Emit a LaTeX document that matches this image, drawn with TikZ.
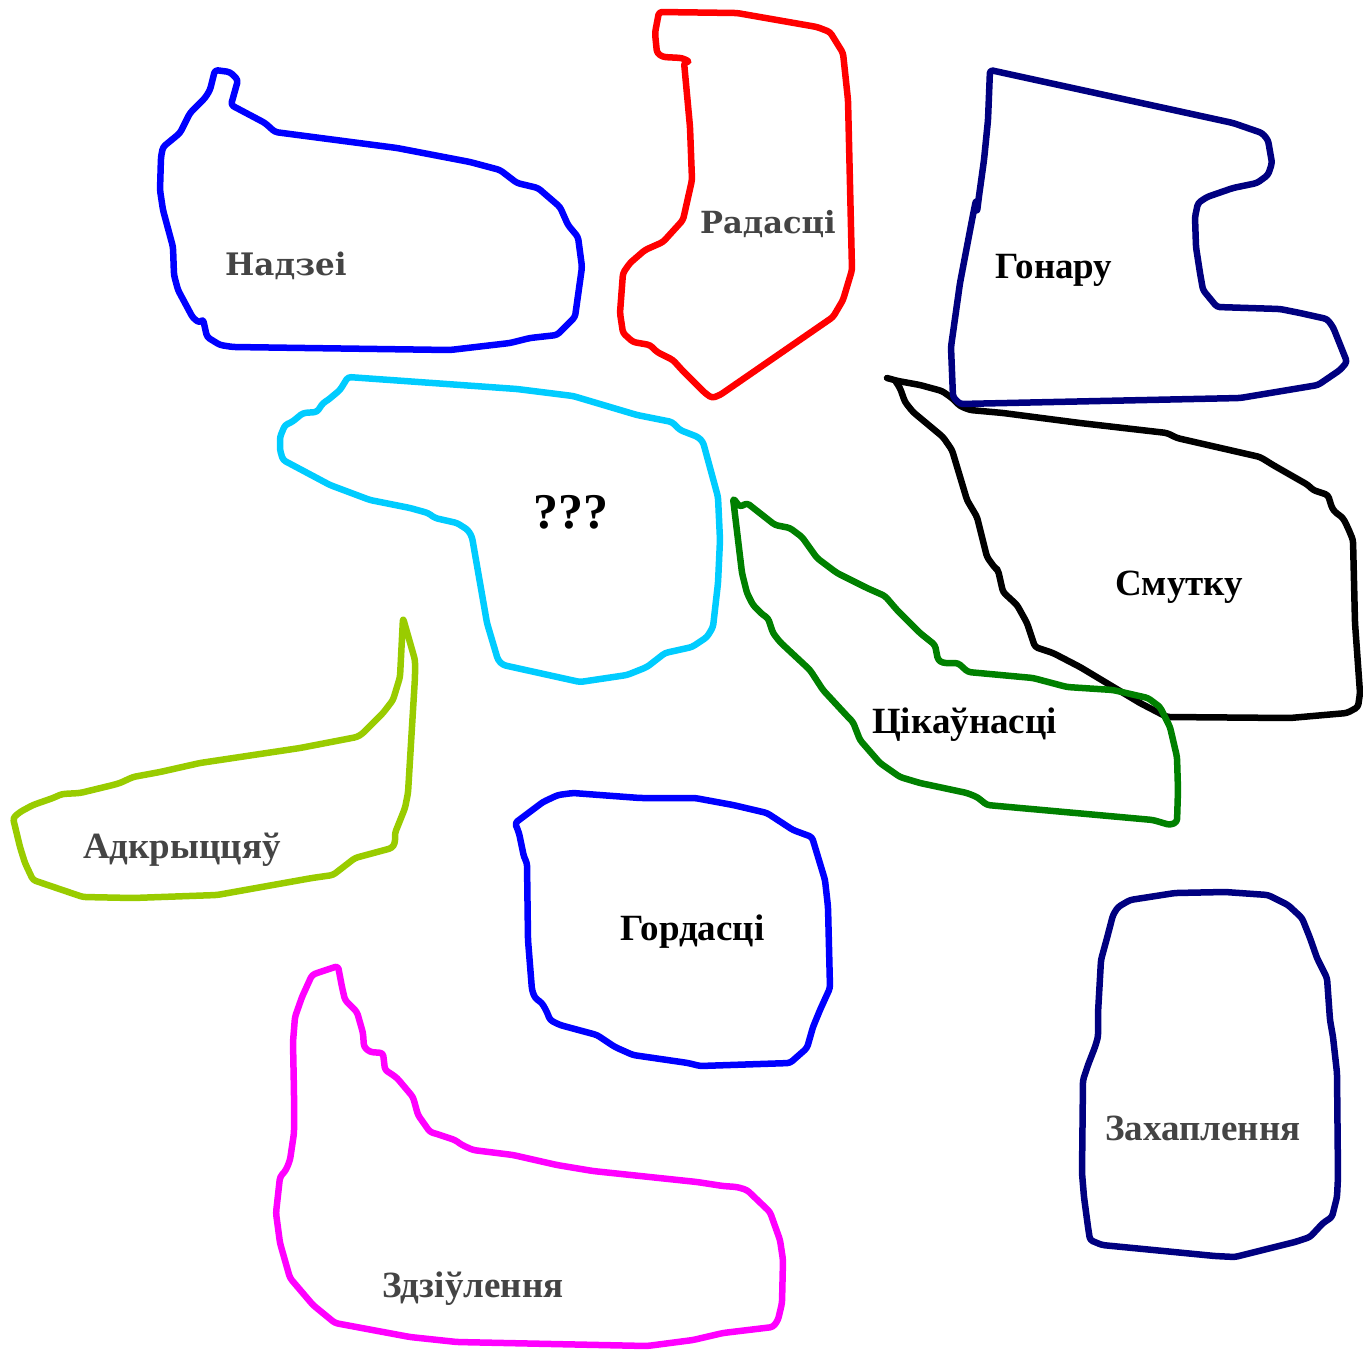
\documentclass[tikz,border=0pt]{standalone}
\usepackage{fontspec}
\setmainfont{Liberation Serif}
\newfontfamily\djserif{DejaVu Serif}
\definecolor{cblue}{HTML}{0000FF}
\definecolor{cred}{HTML}{FF0000}
\definecolor{cnavy}{HTML}{000080}
\definecolor{ccyan}{HTML}{00CCFF}
\definecolor{cyg}{HTML}{99CC00}
\definecolor{cgreen}{HTML}{008000}
\definecolor{cmag}{HTML}{FF00FF}
\definecolor{cgrey}{HTML}{444444}
\tikzset{
  region/.style={line width=6.5pt, line join=round, line cap=round, rounded corners=3pt},
  lbl/.style={anchor=base west, inner sep=0pt, font=\bfseries\fontsize{37}{40}\selectfont},
  lbld/.style={anchor=base west, inner sep=0pt, font=\djserif\bfseries\fontsize{31}{34}\selectfont, text=cgrey},
}
\begin{document}
\begin{tikzpicture}[x=1pt,y=-1pt]
\useasboundingbox (0,0) rectangle (1363,1350);
% Nadzei
\draw[region, cblue] (215,70) -- (230,72) -- (238,80) -- (231,105) -- (265,123) -- (275,132) -- (290,134) -- (397,148) -- (470,162) -- (500,170) -- (517,183) -- (538,188) -- (560,207) -- (568,225) -- (578,237) -- (582,267) -- (575,317) -- (557,335) -- (530,338) -- (510,343) -- (450,350) -- (233,347) -- (220,345) -- (207,337) -- (203,319) -- (200,323) -- (193,318) -- (178,290) -- (174,275) -- (173,247) -- (163,210) -- (160,190) -- (161,157) -- (163,147) -- (180,133) -- (190,113) -- (205,98) -- (210,90) -- cycle;
% Radasci
\draw[region, cred] (659,12) -- (737,13) -- (817,27) -- (830,32) -- (843,53) -- (848,100) -- (852,270) -- (843,300) -- (833,317) -- (720,395) -- (712,398) -- (705,393) -- (682,370) -- (673,360) -- (657,352) -- (650,345) -- (633,342) -- (623,333) -- (620,313) -- (623,273) -- (630,263) -- (645,250) -- (663,242) -- (683,220) -- (692,180) -- (690,127) -- (684,62) -- (690,62) -- (682,58) -- (663,57) -- (657,53) -- (655,33) -- cycle;
% Smutku (black, under green)
\draw[region, black] (887,378) -- (898,381) -- (920,385) -- (942,391) -- (952,398) -- (960,406) -- (970,410) -- (1003,413) -- (1080,423) -- (1167,433) -- (1177,438) -- (1260,457) -- (1265,460) -- (1273,465) -- (1308,485) -- (1313,490) -- (1328,495) -- (1332,508) -- (1335,512) -- (1343,518) -- (1348,528) -- (1353,540) -- (1355,623) -- (1360,693) -- (1358,707) -- (1347,713) -- (1290,718) -- (1167,717) -- (1140,703) -- (1110,685) -- (1080,667) -- (1053,653) -- (1035,647) -- (1027,623) -- (1017,605) -- (1003,592) -- (998,570) -- (995,568) -- (987,557) -- (977,517) -- (967,500) -- (952,450) -- (943,437) -- (913,412) -- (905,402) -- (900,388) -- (896,382);
% Honaru
\draw[region, cnavy] (990,70) -- (1233,123) -- (1262,133) -- (1268,140) -- (1272,163) -- (1268,175) -- (1257,183) -- (1233,188) -- (1207,197) -- (1198,203) -- (1195,217) -- (1196,247) -- (1200,273) -- (1203,290) -- (1217,307) -- (1280,309) -- (1300,313) -- (1327,319) -- (1333,327) -- (1347,362) -- (1340,370) -- (1318,385) -- (1240,398) -- (960,404) -- (953,397) -- (951,347) -- (960,283) -- (972,220) -- (976,200) -- (977,212) -- (979,196) -- (984,160) -- (988,120) -- cycle;
% ???
\draw[region, ccyan] (348,377) -- (517,389) -- (573,396) -- (637,415) -- (672,422) -- (680,430) -- (698,437) -- (703,442) -- (718,497) -- (720,540) -- (718,583) -- (713,627) -- (707,637) -- (692,647) -- (665,653) -- (647,667) -- (627,675) -- (580,682) -- (503,665) -- (498,660) -- (487,623) -- (472,537) -- (468,530) -- (457,523) -- (435,518) -- (428,513) -- (410,508) -- (370,500) -- (330,485) -- (283,460) -- (280,450) -- (280,437) -- (285,425) -- (292,422) -- (303,413) -- (317,412) -- (323,403) -- (328,400) -- (340,390) -- cycle;
% Cikaunasci
\draw[region, cgreen] (733,498) -- (740,507) -- (747,503) -- (775,525) -- (790,528) -- (802,537) -- (817,558) -- (837,573) -- (867,588) -- (885,596) -- (897,610) -- (920,633) -- (935,645) -- (938,660) -- (943,663) -- (958,663) -- (968,672) -- (1033,678) -- (1067,687) -- (1113,690) -- (1148,698) -- (1160,707) -- (1170,727) -- (1177,757) -- (1178,790) -- (1177,822) -- (1170,825) -- (1153,820) -- (987,805) -- (977,797) -- (967,793) -- (920,783) -- (900,777) -- (880,763) -- (860,740) -- (853,722) -- (848,717) -- (823,690) -- (810,670) -- (780,642) -- (773,633) -- (768,618) -- (763,615) -- (753,605) -- (747,593) -- (742,573) -- cycle;
% Adkrycciau
\draw[region, cyg] (403,618) -- (415,660) -- (415,677) -- (408,793) -- (405,808) -- (395,833) -- (395,843) -- (392,848) -- (355,858) -- (333,875) -- (312,878) -- (217,895) -- (133,898) -- (83,897) -- (33,880) -- (25,863) -- (20,847) -- (13,818) -- (20,812) -- (33,805) -- (53,798) -- (62,794) -- (80,793) -- (113,785) -- (120,783) -- (133,777) -- (160,772) -- (200,763) -- (300,748) -- (357,737) -- (362,734) -- (383,713) -- (393,700) -- (400,677) -- cycle;
% Hordasci
\draw[region, cblue] (515,823) -- (543,802) -- (558,795) -- (573,793) -- (640,798) -- (695,798) -- (733,805) -- (767,813) -- (793,830) -- (812,837) -- (825,880) -- (828,907) -- (830,988) -- (820,1010) -- (813,1027) -- (807,1048) -- (790,1063) -- (700,1066) -- (688,1063) -- (633,1055) -- (615,1047) -- (597,1035) -- (560,1025) -- (550,1020) -- (547,1012) -- (542,1003) -- (535,998) -- (532,990) -- (528,940) -- (527,863) -- (524,857) -- (519,833) -- cycle;
% Zdziulennia
\draw[region, cmag] (338,966) -- (323,971) -- (317,973) -- (312,975) -- (302,997) -- (295,1017) -- (293,1042) -- (294,1093) -- (294,1133) -- (290,1160) -- (286,1170) -- (280,1177) -- (276,1213) -- (280,1243) -- (290,1278) -- (313,1305) -- (335,1323) -- (410,1337) -- (457,1342) -- (647,1346) -- (693,1340) -- (723,1333) -- (773,1327) -- (778,1320) -- (782,1303) -- (783,1260) -- (780,1240) -- (770,1212) -- (747,1190) -- (737,1187) -- (723,1186) -- (697,1182) -- (593,1171) -- (557,1165) -- (513,1155) -- (473,1150) -- (462,1145) -- (455,1140) -- (437,1134) -- (430,1132) -- (418,1115) -- (413,1097) -- (397,1078) -- (390,1073) -- (385,1070) -- (383,1053) -- (370,1052) -- (364,1047) -- (363,1033) -- (357,1012) -- (350,1005) -- (345,1000) -- (342,987) -- cycle;
% Zachaplennia
\draw[region, cnavy] (1118,907) -- (1130,900) -- (1175,893) -- (1225,892) -- (1268,895) -- (1288,905) -- (1302,918) -- (1310,938) -- (1317,958) -- (1327,978) -- (1330,1020) -- (1333,1037) -- (1337,1073) -- (1338,1177) -- (1337,1197) -- (1332,1217) -- (1323,1223) -- (1310,1237) -- (1295,1242) -- (1235,1257) -- (1215,1256) -- (1102,1245) -- (1090,1240) -- (1088,1227) -- (1084,1197) -- (1082,1173) -- (1083,1080) -- (1088,1065) -- (1095,1047) -- (1098,1037) -- (1098,1013) -- (1101,960) -- (1107,938) -- (1113,915) -- cycle;
% labels
\node[lbld] (tnadzei) at (225,275) {Надзеі};
\node[lbld, font=\djserif\bfseries\fontsize{30.5}{34}\selectfont] (tradasci) at (700,233) {Радасці};
\node[lbl] (thonaru) at (995,278) {Гонару};
\node[lbl, font=\bfseries\fontsize{50}{54}\selectfont] (tq) at (533,528) {???};
\node[lbl] (tsmutku) at (1115,595) {Смутку};
\node[lbl] (tcikau) at (872,733) {Цікаўнасці};
\node[lbl, text=cgrey] (tadkr) at (83,858) {Адкрыццяў};
\node[lbl] (thord) at (620,940) {Гордасці};
\node[lbl, text=cgrey] (tzdz) at (382,1297) {Здзіўлення};
\node[lbl, text=cgrey] (tzach) at (1105,1140) {Захаплення};
\end{tikzpicture}
\end{document}
